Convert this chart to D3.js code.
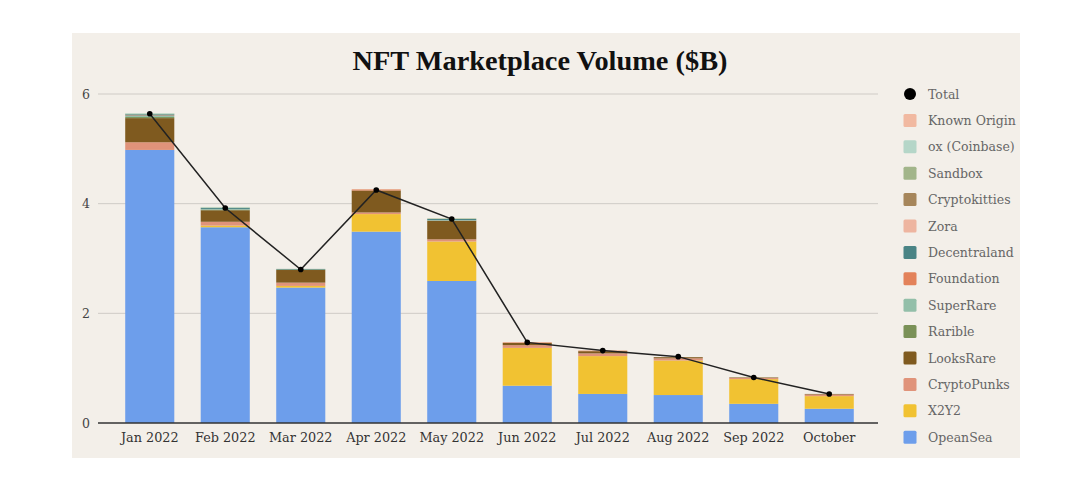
<!DOCTYPE html>
<html><head><meta charset="utf-8">
<script src="https://cdn.jsdelivr.net/npm/d3@7"></script>
<style>
html,body{margin:0;padding:0;background:#ffffff;}
svg{display:block;}
</style></head>
<body><svg id="c" width="1090" height="492"></svg>
<script>
const months = ["Jan 2022","Feb 2022","Mar 2022","Apr 2022","May 2022","Jun 2022","Jul 2022","Aug 2022","Sep 2022","October"];
// stacking order bottom -> top
const seriesNames = ["OpeanSea","X2Y2","CryptoPunks","LooksRare","Rarible","SuperRare","Foundation","Decentraland","Zora","Cryptokitties","Sandbox","ox (Coinbase)","Known Origin"];
const seriesColors = ["#6d9eeb","#f1c232","#e0937a","#7f5a1f","#7a9157","#93bfa9","#e3825a","#4a8485","#eeb5a0","#a6865b","#a2b58a","#b5d6c8","#f1b9a1"];
const openSea      = [4.98,3.57,2.47,3.49,2.59,0.68,0.53,0.51,0.35,0.26];
const x2y2         = [0.00,0.03,0.03,0.32,0.72,0.69,0.69,0.63,0.45,0.23];
const cryptoPunks  = [0.14,0.07,0.06,0.03,0.04,0.05,0.05,0.04,0.02,0.03];
const looksRare    = [0.44,0.21,0.23,0.40,0.34,0.04,0.04,0.02,0.01,0.01];
const rarible      = [0.02,0.01,0.01,0.00,0.00,0.00,0.00,0.00,0.00,0.00];
const superRare    = [0.02,0.01,0.00,0.00,0.01,0.00,0.00,0.00,0.00,0.00];
const foundation   = [0.01,0.00,0.00,0.02,0.00,0.01,0.01,0.00,0.00,0.00];
const decentraland = [0.02,0.02,0.01,0.00,0.02,0.00,0.00,0.00,0.00,0.00];
const zora         = [0.00,0.00,0.00,0.00,0.00,0.00,0.00,0.00,0.00,0.00];
const cryptokitties= [0.00,0.00,0.00,0.00,0.00,0.00,0.00,0.00,0.00,0.00];
const sandbox      = [0.01,0.01,0.00,0.00,0.01,0.00,0.00,0.00,0.00,0.00];
const oxCoinbase   = [0.01,0.01,0.00,0.00,0.00,0.00,0.00,0.00,0.00,0.00];
const knownOrigin  = [0.00,0.00,0.00,0.00,0.00,0.00,0.00,0.00,0.00,0.00];
const totals       = [5.64,3.92,2.80,4.25,3.72,1.47,1.32,1.21,0.83,0.53];
const yTicks = [0,2,4,6];
const legendOrder = ["Total","Known Origin","ox (Coinbase)","Sandbox","Cryptokitties","Zora","Decentraland","Foundation","SuperRare","Rarible","LooksRare","CryptoPunks","X2Y2","OpeanSea"];

const seriesValues = [openSea,x2y2,cryptoPunks,looksRare,rarible,superRare,foundation,decentraland,zora,cryptokitties,sandbox,oxCoinbase,knownOrigin];
const table = months.map((m,i)=>{const o={month:m}; seriesNames.forEach((s,j)=>o[s]=seriesValues[j][i]); return o;});
const color = d3.scaleOrdinal().domain(seriesNames).range(seriesColors);

const svg = d3.select("#c");
const serif = "'Liberation Serif','DejaVu Serif',serif";
const slab = "'DejaVu Serif','Liberation Serif',serif";

svg.append("rect").attr("x",72).attr("y",33).attr("width",948).attr("height",425).attr("fill","#f3efe9");

const x = d3.scaleBand().domain(months).range([100,879]).paddingInner(0.35).paddingOuter(0.334);
const y = d3.scaleLinear().domain([0,6]).range([423,94]);

// grid
svg.append("g").selectAll("line").data(yTicks.filter(t=>t>0)).join("line")
  .attr("x1",98).attr("x2",878).attr("y1",d=>y(d)).attr("y2",d=>y(d))
  .attr("stroke","#cfcbc6").attr("stroke-width",1);

// y labels
svg.append("g").selectAll("text").data(yTicks).join("text")
  .attr("x",90).attr("y",d=>y(d)+4.5).attr("text-anchor","end")
  .attr("font-family",slab).attr("font-size",12.5).attr("fill","#444").text(d=>d);

// bars
const stack = d3.stack().keys(seriesNames)(table);
svg.append("g").selectAll("g").data(stack).join("g").attr("fill",d=>color(d.key))
  .selectAll("rect").data(d=>d).join("rect")
  .attr("x",d=>x(d.data.month)).attr("width",x.bandwidth())
  .attr("y",d=>y(d[1])).attr("height",d=>Math.max(0,y(d[0])-y(d[1])));

// baseline
svg.append("line").attr("x1",98).attr("x2",878).attr("y1",y(0)).attr("y2",y(0))
  .attr("stroke","#333").attr("stroke-width",1.3);

// x labels
svg.append("g").selectAll("text").data(months).join("text")
  .attr("x",d=>x(d)+x.bandwidth()/2).attr("y",442).attr("text-anchor","middle")
  .attr("font-family",slab).attr("font-size",12.8).attr("fill","#333").text(d=>d);

// total line
const line = d3.line().x((d,i)=>x(months[i])+x.bandwidth()/2).y(d=>y(d));
svg.append("path").datum(totals).attr("d",line).attr("fill","none").attr("stroke","#222").attr("stroke-width",1.5);
svg.append("g").selectAll("circle").data(totals).join("circle")
  .attr("cx",(d,i)=>x(months[i])+x.bandwidth()/2).attr("cy",d=>y(d)).attr("r",2.8).attr("fill","#000");

// title
svg.append("text").attr("x",540).attr("y",70).attr("text-anchor","middle")
  .attr("font-family",serif).attr("font-weight","bold").attr("font-size",27).attr("fill","#111")
  .attr("textLength",375).attr("lengthAdjust","spacingAndGlyphs")
  .text("NFT Marketplace Volume ($B)");

// legend
const lg = svg.append("g");
legendOrder.forEach((name,i)=>{
  const yy = 94 + i*26.4;
  if(name==="Total"){
    lg.append("circle").attr("cx",910).attr("cy",yy).attr("r",6).attr("fill","#000");
  } else {
    lg.append("rect").attr("x",903.5).attr("y",yy-6.5).attr("width",13).attr("height",13).attr("rx",1.5).attr("fill",color(name));
  }
  lg.append("text").attr("x",928).attr("y",yy+4.5).attr("font-family",slab).attr("font-size",12.5).attr("fill","#666").text(name);
});
</script></body></html>
